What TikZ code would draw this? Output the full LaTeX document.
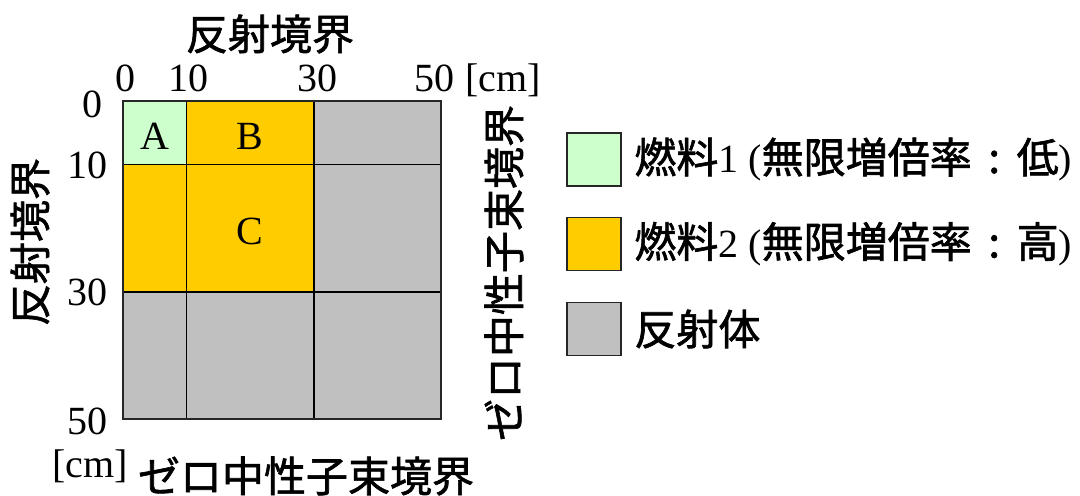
\documentclass[tikz,border=0pt]{standalone}
\usepackage{fontspec}
\setmainfont{Liberation Serif}
\newfontfamily\jp{Noto Sans CJK JP}[FakeBold=1.5]
\definecolor{fuelA}{HTML}{CCFFCC}
\definecolor{fuelB}{HTML}{FFCC00}
\definecolor{refl}{HTML}{C0C0C0}
\newcommand\jcolon{\makebox[22.5pt][c]{\jp :}}
\tikzset{
  num/.style={font=\fontsize{20}{24}\selectfont,inner sep=0pt},
  jlab/.style={font=\jp\fontsize{21}{25}\selectfont,inner sep=0pt},
  keybox/.style={draw=black!85,line width=0.9pt,minimum width=27pt,minimum height=26.5pt,inner sep=0pt},
}
\begin{document}
\begin{tikzpicture}[x=0.5pt,y=-0.5pt]
        \useasboundingbox(0,0)rectangle(1080,496);
        \begin{scope}[shift={(122.7,101)},x=3.186pt,y=-3.183pt]
            \fill[refl](0,0)rectangle(50,50);
            \fill[fuelB](0,0)rectangle(30,30);
            \fill[fuelA](0,0)rectangle(10,10);
            \draw[line width=0.75pt](10,0)--(10,50)(30,0)--(30,50)(0,10)--(50,10)(0,30)--(50,30);
            \draw[line width=1pt,black!85](0,0)rectangle(50,50);
            \node[num](A)at(5,5.5){A};
            \node[num](B)at(20,5.5){B};
            \node[num](C)at(20,20.5){C};
        \end{scope}
        \node[num,anchor=base](t0)at(125,92){0};
        \node[num,anchor=base](t10)at(188,92){10};
        \node[num,anchor=base](t30)at(317,92){30};
        \node[num,anchor=base](t50)at(434,92){50};
        \node[num,anchor=base west](tcm)at(465,92){[cm]};
        \node[num,anchor=east](l0)at(103,104){0};
        \node[num,anchor=east](l10)at(108,165){10};
        \node[num,anchor=east](l30)at(108,292){30};
        \node[num,anchor=east](l50)at(108,421){50};
        \node[num](lcm)at(90,466){[cm]};
        \node[jlab](top)at(270,34){反射境界};
        \node[jlab,rotate=90](left)at(30,242){反射境界};
        \node[jlab,rotate=90](right)at(504,273){ゼロ中性子束境界};
        \node[jlab](bottom)at(306,476){ゼロ中性子束境界};
        \node[keybox,fill=fuelA](k1)at(594,159.5){};
        \node[keybox,fill=fuelB](k2)at(594,244){};
        \node[keybox,fill=refl](k3)at(594,329){};
        \node[num,anchor=west](k1t)at(634,159.5){{\jp\fontsize{21}{25}\selectfont 燃料}1 ({\jp\fontsize{21}{25}\selectfont 無限増倍率\jcolon 低})};
        \node[num,anchor=west](k2t)at(634,244){{\jp\fontsize{21}{25}\selectfont 燃料}2 ({\jp\fontsize{21}{25}\selectfont 無限増倍率\jcolon 高})};
        \node[jlab,anchor=west](k3t)at(634,329){反射体};
\end{tikzpicture}
\end{document}
